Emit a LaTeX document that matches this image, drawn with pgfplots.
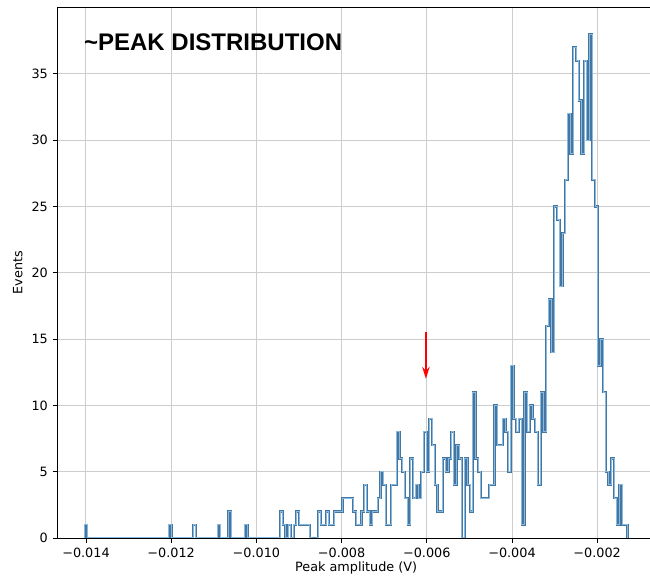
\documentclass[border=0pt]{standalone}
\usepackage{fontspec}
\setmainfont{DejaVu Sans}
\newfontfamily\titlefont{Liberation Sans}
\usepackage{pgfplots}
\usepackage{pgfplotstable}
\pgfplotsset{compat=1.18}
\usetikzlibrary{arrows.meta}

\definecolor{histedge}{RGB}{70,118,160}
\definecolor{histcore}{RGB}{135,186,224}
\definecolor{gridgray}{RGB}{205,205,205}

% Step histogram of peak amplitudes: 200 equal bins from -0.014032 V,
% bin width 0.00006373 V; "bin" is the index of the bin's left edge.
\pgfplotstableread{
bin count
0 0
0 1
1 0
31 1
32 0
40 1
41 0
49 1
50 0
53 2
54 0
59 1
60 0
72 2
73 1
74 0
75 1
76 0
77 1
78 2
79 1
80 1
81 1
82 1
83 0
84 0
85 0
86 2
87 1
88 1
89 2
90 1
91 1
92 2
93 2
94 2
95 3
96 3
97 3
98 3
99 2
100 1
101 1
102 2
103 4
104 2
105 1
106 2
107 2
108 3
109 5
110 4
111 1
112 1
113 4
114 4
115 8
116 6
117 5
118 3
119 1
120 6
121 3
122 4
123 3
124 5
125 8
126 5
127 9
128 7
129 4
130 2
131 2
132 6
133 5
134 6
135 8
136 4
137 7
138 6
139 0
140 6
141 4
142 2
143 11
144 6
145 5
146 3
147 3
148 3
149 4
150 4
151 10
152 7
153 7
154 9
155 8
156 5
157 13
158 9
159 8
160 9
161 1
162 11
163 8
164 10
165 9
166 8
167 4
168 11
169 8
170 16
171 18
172 14
173 25
174 24
175 19
176 23
177 27
178 32
179 29
180 37
181 36
182 33
183 29
184 36
185 30
186 38
187 27
188 25
189 13
190 15
191 11
192 5
193 4
194 6
195 3
196 1
197 4
198 1
199 1
200 0
}\peakhist

\begin{document}
\begin{tikzpicture}
\begin{axis}[
  scale only axis,
  width=447.94pt, height=397.8pt,
  xmin=-0.014669, xmax=-0.000649,
  ymin=0, ymax=40,
  xtick={-0.014,-0.012,-0.010,-0.008,-0.006,-0.004,-0.002},
  xticklabels={−0.014,−0.012,−0.010,−0.008,−0.006,−0.004,−0.002},
  scaled x ticks=false,
  ytick={0,5,...,35},
  tick pos=left,
  tick align=outside,
  major tick length=3.65pt,
  every tick/.style={black, line width=0.6pt},
  axis line style={line width=0.6pt},
  grid=major,
  major grid style={line width=0.7pt, color=gridgray},
  ticklabel style={font=\fontsize{9.6}{11}\selectfont},
  label style={font=\fontsize{9.6}{11}\selectfont},
  xlabel style={yshift=3.2pt},
  /pgf/number format/assume math mode=true,
  xlabel={Peak amplitude (V)},
  ylabel={Events},
  clip=false,
]
\addplot[const plot, draw=histedge, line width=0.45pt,
         double=histcore, double distance=0.75pt, line join=miter]
  table[x expr={-0.014032+0.00006373*\thisrow{bin}}, y=count] {\peakhist};

% bottom spine redrawn over the histogram's zero line
\draw[black, line width=0.6pt] (rel axis cs:0,0) -- (rel axis cs:1,0);

\node[anchor=west, inner sep=0pt, font=\titlefont\bfseries\fontsize{18}{20}\selectfont]
  at (axis cs:-0.01405,37.4) {\textasciitilde PEAK DISTRIBUTION};

\draw[red, line width=1.2pt, -{Stealth[length=9pt,width=5.5pt]}]
  (axis cs:-0.00602,15.5) -- (axis cs:-0.00602,12.0);
\end{axis}
\pgfresetboundingbox
\path[use as bounding box]
  ([xshift=-43.1pt,yshift=-29.25pt]current axis.south west)
  rectangle ([xshift=444.4pt,yshift=403.5pt]current axis.south west);
\end{tikzpicture}
\end{document}
